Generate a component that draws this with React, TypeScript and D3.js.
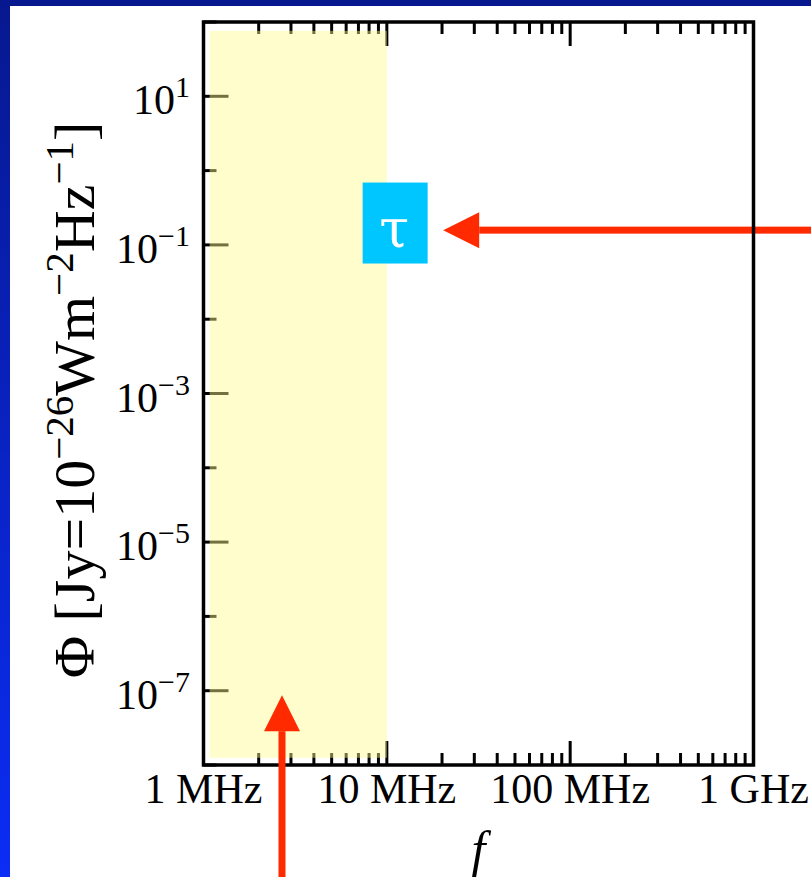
import React from "react";
import * as d3 from "d3";

const W = 811;
const H = 877;

// axis ranges (Hz and Jy)
const freqDomain = [1e6, 1e9];
const phiDomain = [1e-8, 1e2];

const xTickLabels = [
  { f: 1e6, label: "1 MHz" },
  { f: 1e7, label: "10 MHz" },
  { f: 1e8, label: "100 MHz" },
  { f: 1e9, label: "1 GHz" },
];
const yTickExponents = [2, 1, 0, -1, -2, -3, -4, -5, -6, -7, -8];
const yLabelExponents = [1, -1, -3, -5, -7];

// shaded band (f from, f to / phi from, phi to)
const bandFreq = [1.08e6, 1.0e7];
const bandPhi = [1.25e-8, 76];

// annotations in data space
const tauBox = { f: 1.11e7, phi: 0.2, text: "τ" };
const arrowH = { f: 2.03e7, phi: 0.158 };
const arrowV = { f: 2.68e6, phi: 8.7e-8 };

const margin = { top: 22, right: 57.5, bottom: 112, left: 203.5 };
const serif = "'Liberation Serif', 'Times New Roman', serif";

const red = "#ff2a00";

export default function App() {
  const x = d3
    .scaleLog()
    .domain(freqDomain)
    .range([margin.left, W - margin.right]);
  const y = d3
    .scaleLog()
    .domain(phiDomain)
    .range([H - margin.bottom, margin.top]);

  const [x0, x1] = x.range();
  const [yb, yt] = y.range();

  const xticks = x.ticks();
  const isMajor = (v: number) => Math.abs(Math.log10(v) - Math.round(Math.log10(v))) < 1e-9;

  const hx = x(arrowH.f);
  const hy = y(arrowH.phi);
  const vx = x(arrowV.f);
  const vy = y(arrowV.phi);
  const head = 36;
  const half = 18;
  const shaft = 7;

  return (
    <svg
      width={W}
      height={H}
      style={{ position: "absolute", left: 0, top: 0, display: "block" }}
      fontFamily={serif}
    >
      <defs>
        <linearGradient id="bg" x1="0" y1="0" x2="0" y2="1">
          <stop offset="0" stopColor="#07188f" />
          <stop offset="1" stopColor="#0b2df5" />
        </linearGradient>
      </defs>
      <rect width={W} height={H} fill="url(#bg)" />
      <rect x={10} y={6} width={W - 10} height={H - 6} fill="#fff" />

      {/* horizontal arrow (under the frame) */}
      <rect x={hx + head} y={hy - shaft / 2} width={W - hx - head} height={shaft} fill={red} />
      <path d={`M${hx},${hy}L${hx + head},${hy - half}L${hx + head},${hy + half}Z`} fill={red} />

      {/* x ticks bottom & top */}
      {xticks.map((t, i) => {
        const len = isMajor(t) ? 24 : 12;
        return (
          <g key={"xt" + i} stroke="#000" strokeWidth={3}>
            <line x1={x(t)} x2={x(t)} y1={yb} y2={yb - len} />
            <line x1={x(t)} x2={x(t)} y1={yt} y2={yt + len} />
          </g>
        );
      })}
      {/* y ticks left */}
      {yTickExponents.map((e) => {
        const len = yLabelExponents.includes(e) ? 25 : 13;
        return (
          <line
            key={"yt" + e}
            x1={x0}
            x2={x0 + len}
            y1={y(Math.pow(10, e))}
            y2={y(Math.pow(10, e))}
            stroke="#000"
            strokeWidth={3}
          />
        );
      })}

      {/* shaded band */}
      <rect
        x={x(bandFreq[0])}
        y={y(bandPhi[1])}
        width={x(bandFreq[1]) - x(bandFreq[0])}
        height={y(bandPhi[0]) - y(bandPhi[1])}
        fill="rgb(255,250,140)"
        opacity={0.45}
      />

      {/* frame */}
      <rect x={x0} y={yt} width={x1 - x0} height={yb - yt} fill="none" stroke="#000" strokeWidth={3.5} />

      {/* vertical arrow (over the frame) */}
      <rect x={vx - shaft / 2} y={vy + head} width={shaft} height={H - vy - head} fill={red} />
      <path d={`M${vx},${vy}L${vx - half},${vy + head}L${vx + half},${vy + head}Z`} fill={red} />

      {/* tau box */}
      <rect x={x(tauBox.f) - 32.5} y={y(tauBox.phi) - 40} width={65} height={81} fill="#00c6ff" />
      <text
        x={x(tauBox.f) - 1}
        y={y(tauBox.phi) + 24}
        textAnchor="middle"
        fill="#fff"
        fontSize={54}
        fontFamily="'DejaVu Serif', serif"
      >
        {tauBox.text}
      </text>

      {/* y tick labels */}
      {yLabelExponents.map((e) => (
        <text key={"yl" + e} x={190} y={y(Math.pow(10, e)) + 18} textAnchor="end" fontSize={42}>
          10
          <tspan dy={-17} fontSize={30}>
            {e < 0 ? "\u2212" + Math.abs(e) : String(e)}
          </tspan>
        </text>
      ))}

      {/* x tick labels */}
      {xTickLabels.map((d) => (
        <text key={d.label} x={x(d.f)} y={yb + 38} textAnchor="middle" fontSize={42}>
          {d.label}
        </text>
      ))}

      {/* axis titles */}
      <text x={(x0 + x1) / 2} y={866} textAnchor="middle" fontSize={50} fontStyle="italic">
        f
      </text>
      <text
        transform={`translate(94,400) rotate(-90)`}
        textAnchor="middle"
        fontSize={58}
      >
        Φ [Jy=10
        <tspan dy={-21} fontSize={41}>−26</tspan>
        <tspan dy={21}>Wm</tspan>
        <tspan dy={-21} fontSize={41}>−2</tspan>
        <tspan dy={21}>Hz</tspan>
        <tspan dy={-21} fontSize={41}>−1</tspan>
        <tspan dy={21}>]</tspan>
      </text>
    </svg>
  );
}
